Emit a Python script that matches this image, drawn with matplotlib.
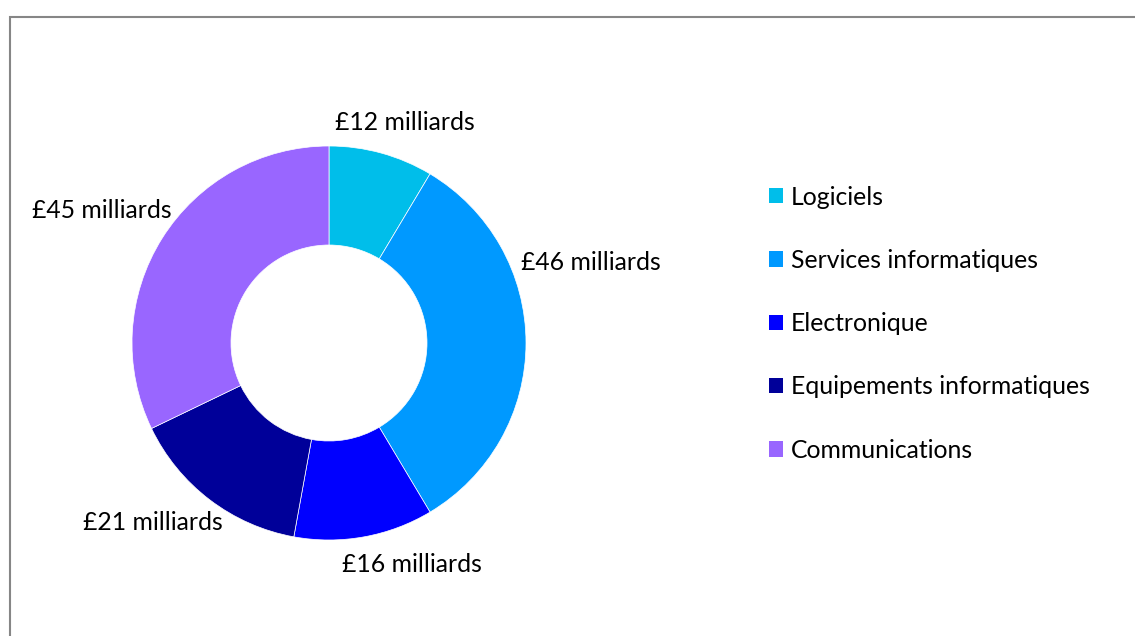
import matplotlib
matplotlib.use("Agg")
import matplotlib.pyplot as plt
from matplotlib.patches import Patch, Rectangle

categories = ["Logiciels", "Services informatiques", "Electronique",
              "Equipements informatiques", "Communications"]
values = [12, 46, 16, 21, 45]
value_labels = ["£12 milliards", "£46 milliards", "£16 milliards",
                "£21 milliards", "£45 milliards"]
colors = ["#00BEEA", "#0099FF", "#0000FF", "#000099", "#9966FF"]

W, H = 1135, 636
plt.rcParams['font.family'] = ['Lato', 'DejaVu Sans']
FS = 17.8
fig = plt.figure(figsize=(W / 100, H / 100), dpi=100)
ax = fig.add_axes([0, 0, 1, 1])

cx, cy, R = 329, H - 343, 197
wedges, _ = ax.pie(values, colors=colors, startangle=90, counterclock=False,
                   center=(cx, cy), radius=R,
                   wedgeprops=dict(width=R - 98, edgecolor='white', linewidth=0.5))
ax.set_xlim(0, W)
ax.set_ylim(0, H)
ax.set_aspect('equal')
ax.axis('off')

# frame
ax.add_patch(Rectangle((9.5, -20), W + 40, H - 16.5 + 20, fill=False,
                       edgecolor="#868686", linewidth=1.5, clip_on=False))

# label positions (pixel layout, from top-left)
label_pos = [(405, 122), (591, 262), (412, 565), (153, 523), (102, 210)]
for txt, (lx, ly) in zip(value_labels, label_pos):
    ax.text(lx, H - ly, txt, ha='center', va='center', fontsize=FS,
            color='black')

handles = [Patch(facecolor=c, edgecolor='none') for c in colors]
fig.legend(handles, categories, loc='upper left',
           bbox_to_anchor=(769 / W, 1 - 185.5 / H), frameon=False,
           fontsize=FS, handlelength=0.57, handleheight=0.57,
           handletextpad=0.3, labelspacing=1.63, borderaxespad=0,
           borderpad=0)

fig.savefig("out.png", dpi=100)
